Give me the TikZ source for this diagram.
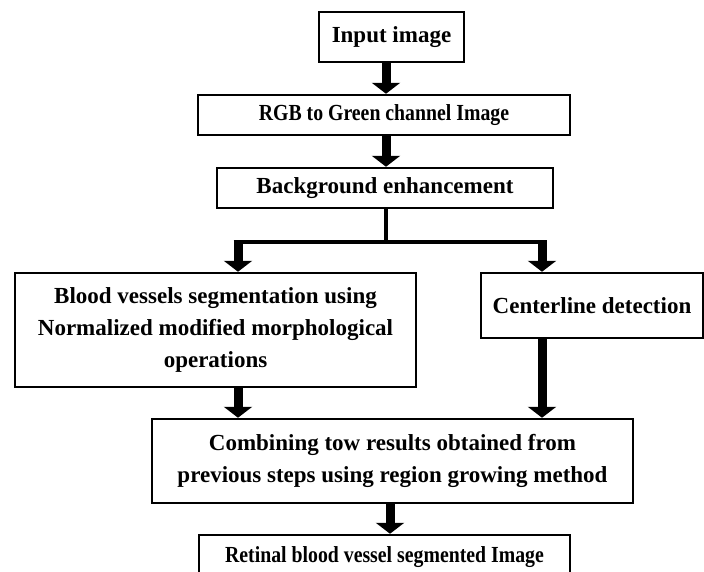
\documentclass[tikz,border=0pt]{standalone}
\usepackage{fontspec}
\setmainfont{Liberation Serif}
\usetikzlibrary{arrows.meta}
\usetikzlibrary{positioning}
\tikzstyle{procbox}=[rectangle,draw=black,line width=2.5pt,fill=white,inner sep=0pt,align=center,font=\fontsize{23}{32}\selectfont\bfseries]
\tikzstyle{flow} = [draw,line width=9pt,-{Triangle[width=28pt,length=11pt]}]
\tikzstyle{joint} = [draw,line width=4.5pt]
\newcommand{\narrow}[1]{\scalebox{0.86}[1]{#1}}

\begin{document}
\begin{tikzpicture}[x=1pt,y=-1pt]

  \useasboundingbox (0,0) rectangle (704,571);
  \clip (0,0) rectangle (704,571);

   \foreach \x/\y/\w/\h/\name/\label in {391.5/37/145/50/input/{Input image},
          384/115/372/40/rgb/{\narrow{RGB to Green channel Image}},
          385/188/336/40/bg/{Background enhancement},
          215.5/330/401/114/seg/{Blood vessels segmentation using\\Normalized modified morphological\\operations},
          592/305.5/222/65/cl/{Centerline detection},
          392.5/461/481/84/comb/{Combining tow results obtained from\\previous steps using region growing method},
          384.5/557/371/44/final/{\narrow{Retinal blood vessel segmented Image}}}
          \node[procbox,minimum width=\w pt,minimum height=\h pt] (\name) at (\x,\y) {\label};

   \coordinate (split) at (386,242);
   \coordinate (lsplit) at (238,242);
   \coordinate (rsplit) at (542,242);
   \coordinate (merge) at (390,0);

  % main column
   \path[flow] (input.south -| split) -- (rgb.north -| split);
   \path[flow] (rgb.south -| split) -- (bg.north -| split);
   \path[joint] (bg.south -| split) -- (split);
   \path[joint] ([xshift=-4.5pt]lsplit) -- ([xshift=4.5pt]rsplit);

  % two branches
   \foreach \source/\dest in {lsplit/seg, rsplit/cl}
         \path[flow] (\source) -- (\source |- \dest.north);
   \foreach \source/\dest in {seg/lsplit, cl/rsplit}
         \path[flow] (\dest |- \source.south) -- (\dest |- comb.north);

   \path[flow] (comb.south -| merge) -- (final.north -| merge);

\end{tikzpicture}
\end{document}
